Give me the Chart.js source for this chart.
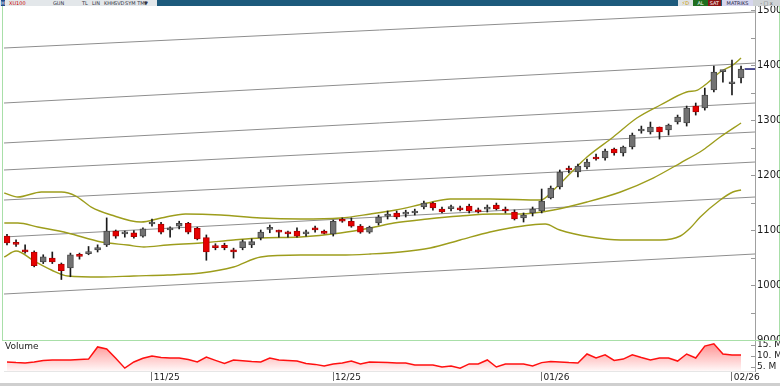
<!DOCTYPE html>
<html>
<head>
<meta charset="utf-8">
<script src="https://cdn.jsdelivr.net/npm/chart.js@4.4.1/dist/chart.umd.min.js"></script>
<style>
body{margin:0;width:780px;height:386px;overflow:hidden;background:#fff;position:relative;font-family:'DejaVu Sans',sans-serif}
#tb{position:absolute;left:0;top:0;width:780px;height:6px;background:#1d5a7c;overflow:hidden}
#tbl{position:absolute;left:0;top:0;width:157px;height:6px;background:#e3e7ea;font-size:5px;line-height:6px;color:#334}
#tbl span{position:absolute;top:0}
#tbr span{position:absolute;top:0;height:6px;font-size:5px;line-height:6px;text-align:center}
#frame{position:absolute;left:2px;top:6px;width:776px;height:334px;border:1px solid #a8dfa8;border-top:none}
#main{position:absolute;left:0;top:6px}
#vol{position:absolute;left:0;top:341px}
#vlab{position:absolute;left:5px;top:341px;font-size:9px;color:#222}
#foot{position:absolute;left:0;top:383px;width:780px;height:3px;background:#cfcfcf}
</style>
</head>
<body>
<div id="tb">
  <div id="tbl">
    <span style="left:1px;color:#fff;background:#234a8a;width:4px;text-align:center">H</span>
    <span style="left:9px;color:#c00">XU100</span>
    <span style="left:53px">GUN</span>
    <span style="left:82px">TL</span>
    <span style="left:92px">LIN</span>
    <span style="left:104px">KHH</span>
    <span style="left:114px">SVD</span>
    <span style="left:125px">SYM TMP</span>
    <span style="left:144px">&#9660;</span>
  </div>
  <div id="tbr">
    <span style="left:678px;width:15px;background:#dfe3e6;color:#c90">&#9889;D</span>
    <span style="left:693px;width:15px;background:#1f6e1f;color:#fff">AL</span>
    <span style="left:708px;width:13px;background:#8c1414;color:#fff">SAT</span>
    <span style="left:722px;width:31px;background:#d6d6ee;color:#224">MATRIKS</span>
    <span style="left:753px;width:27px;background:#cfd3d6;color:#555">- &#9633; x</span>
  </div>
</div>
<div id="frame"></div>
<canvas id="main" width="780" height="334"></canvas>
<canvas id="vol" width="780" height="42"></canvas>
<div id="vlab">Volume</div>
<div id="foot"></div>
<script>
// daily candles, oldest first
const open = [10890,10760,10640,10600,10420,10490,10380,10310,10550,10570,10640,10730,10980,10930,10950,10890,11110,11110,11000,11070,
  11120,11030,10860,10700,10720,10640,10680,10730,10860,11010,10990,10950,10980,10930,11040,10980,10930,11200,11160,11070,
  10960,11127,11250,11310,11290,11310,11418,11490,11382,11390,11400,11436,11365,11380,11455,11382,11327,11218,11310,11345,
  11582,11782,12127,12054,12145,12327,12309,12473,12400,12509,12800,12782,12873,12818,12963,12945,13254,13218,13545,13880,
  13660,13764];
const high = [10920,10820,10730,10620,10550,10600,10400,10580,10580,10700,10730,11220,11000,10980,10990,11040,11200,11140,11060,11160,
  11140,11050,10910,10750,10760,10670,10820,10840,11000,11090,11000,10980,11040,11000,11070,11000,11180,11220,11220,11100,
  11070,11270,11345,11345,11360,11380,11527,11509,11418,11455,11436,11470,11400,11455,11490,11418,11365,11310,11418,11745,
  11800,12091,12163,12200,12290,12380,12473,12490,12527,12763,12890,12963,12873,12927,13090,13254,13309,13580,13980,13900,
  14091,13980];
const low = [10730,10700,10580,10330,10390,10390,10100,10150,10470,10550,10600,10700,10850,10870,10850,10870,11070,10930,10870,11020,
  10930,10820,10450,10640,10640,10490,10640,10680,10820,10950,10870,10870,10870,10890,10960,10930,10890,11140,11050,10940,
  10940,11090,11200,11200,11236,11273,11382,11360,11309,11345,11345,11310,11310,11327,11365,11310,11182,11145,11255,11310,
  11564,11745,12036,11964,12110,12270,12270,12360,12345,12473,12760,12745,12654,12727,12927,12890,13090,13180,13510,13690,
  13454,13673];
const close = [10765,10740,10600,10350,10510,10420,10260,10550,10520,10600,10680,10980,10890,10950,10880,11020,11140,10960,11040,11120,
  10960,10840,10600,10680,10680,10600,10790,10790,10960,11030,10960,10930,10890,10960,11000,10940,11160,11160,11070,10960,
  11050,11236,11290,11236,11310,11345,11490,11400,11327,11405,11365,11345,11327,11400,11382,11345,11200,11273,11382,11527,
  11764,12054,12091,12163,12236,12291,12436,12400,12509,12727,12818,12873,12782,12909,13054,13218,13145,13454,13873,13891,
  13673,13927];
// volume in millions
const volume = [7.3,7.0,6.8,7.3,8.0,8.2,8.2,8.2,8.4,8.6,14.1,13.2,9.0,4.5,7.3,9.0,10.0,9.3,9.1,9.1,
  8.4,7.3,9.5,8.0,6.6,8.2,7.9,7.5,7.3,9.1,8.2,8.0,7.7,6.6,6.2,5.5,6.4,6.8,7.7,6.4,
  7.3,7.2,7.0,6.8,6.8,5.9,5.9,5.9,5.0,5.5,4.5,6.4,6.4,8.2,5.0,6.4,6.4,6.4,5.5,7.0,
  7.5,7.3,7.0,6.8,10.9,9.1,10.5,8.0,8.6,10.5,9.3,8.2,9.1,9.1,7.7,10.9,9.1,14.5,15.5,10.9,
  10.5,10.5];

// bollinger bands read at [candle index, price]
const upperBand = [[-0.3,11673],[1.2,11600],[3.8,11691],[6,11691],[7.6,11618],[9.3,11418],[11.5,11273],[14.8,11145],[17,11218],
  [19.7,11291],[23.6,11273],[28,11218],[32.4,11200],[36.8,11218],[40.1,11291],[42.9,11364],[46.4,11491],[48.9,11564],[53.3,11564],
  [58.9,11545],[60.3,11727],[62.2,12036],[64,12327],[66.9,12691],[69.5,13036],[72.1,13273],[75,13509],[76.2,13545],[77.3,13673],
  [78.7,13873],[80.1,14000],[81,14127]];
const middleBand = [[-0.3,11127],[1.2,11127],[3.4,11055],[6.7,10945],[10.4,10782],[13.3,10727],[15.1,10691],[17.7,10727],[21.4,10764],
  [25,10818],[28,10855],[32.4,10873],[36.8,10945],[40.1,11036],[42.7,11127],[46.4,11200],[50,11255],[53.7,11291],[56.7,11291],
  [60.3,11364],[64,11509],[67.7,11691],[71.3,11945],[74.3,12218],[76.8,12455],[78.7,12691],[81,12945]];
const lowerBand = [[-0.3,10509],[1,10618],[3,10436],[4.9,10273],[6.7,10164],[10.4,10145],[14,10164],[17.7,10182],[21.4,10218],
  [25,10327],[28,10509],[32.4,10545],[36.8,10545],[40.1,10564],[43.4,10600],[46.7,10673],[50,10818],[53.3,10964],[55.5,11036],
  [57.8,11091],[59.4,11109],[61,11000],[64.4,10873],[67.7,10818],[72.1,10818],[74.3,10891],[75.4,11036],[76.5,11236],[78.7,11545],
  [80.1,11691],[81,11727]];
// regression channel lines, price at left and right edge
const channelStart = [14309,13309,12582,12091,11545,10873,9836];
const channelEnd = [14963,14036,13309,12782,12236,11600,10564];

const priceTicks = [9000,9500,10000,10500,11000,11500,12000,12500,13000,13500,14000,14500,15000];
const volumeTicks = [5, 10, 15];
const monthTicks = [16, 36, 59, 80];
const monthLabels = ['11/25', '12/25', '01/26', '02/26'];

const xMin = -0.33, xMax = 82.54;
const font = 'DejaVu Sans';

const innerTicks = {
  id: 'innerTicks',
  afterDraw(chart) {
    const s = chart.scales.y, c = chart.ctx;
    c.save();
    c.strokeStyle = '#999';
    c.lineWidth = 1;
    s.ticks.forEach(t => {
      const p = Math.round(s.getPixelForValue(t.value)) + 0.5;
      c.beginPath(); c.moveTo(s.left - 4, p); c.lineTo(s.left, p); c.stroke();
    });
    c.restore();
  }
};

const up = close.map((c, i) => c >= open[i]);
const datasets = [];

datasets.push({
  type: 'bar', order: 0, grouped: false, barThickness: 6, minBarLength: 2,
  data: close.map((c, i) => ({x: i, y: [open[i], c]})),
  backgroundColor: up.map(u => u ? '#727272' : '#e60000'),
  borderColor: up.map(u => u ? '#4a4a4a' : '#b00000'),
  borderWidth: 1, borderSkipped: false
});
datasets.push({
  type: 'bar', order: 1, grouped: false, barThickness: 1,
  data: close.map((c, i) => ({x: i, y: [low[i], high[i]]})),
  backgroundColor: '#1a1a1a'
});
[upperBand, middleBand, lowerBand].forEach(b => datasets.push({
  type: 'line', order: 3, data: b.map(p => ({x: p[0], y: p[1]})),
  borderColor: '#9d9d1c', borderWidth: 1.4, pointRadius: 0, cubicInterpolationMode: 'monotone'
}));
channelStart.forEach((v, i) => datasets.push({
  type: 'line', order: 4, data: [{x: xMin, y: v}, {x: xMax, y: channelEnd[i]}],
  borderColor: '#8e8e8e', borderWidth: 1, pointRadius: 0
}));
datasets.push({
  type: 'line', order: 0,
  data: [{x: close.length - 0.6, y: close[close.length - 1]}, {x: xMax, y: close[close.length - 1]}],
  borderColor: '#141470', borderWidth: 1.5, pointRadius: 0
});

new Chart(document.getElementById('main'), {
  type: 'bar',
  data: {datasets},
  options: {
    responsive: false, animation: false, devicePixelRatio: 1,
    layout: {padding: {left: 4, right: 0, top: 0, bottom: 0}},
    plugins: {legend: {display: false}, tooltip: {enabled: false}},
    scales: {
      x: {type: 'linear', min: xMin, max: xMax, offset: false, display: false},
      y: {
        type: 'linear', position: 'right', min: 9000, max: 15073, beginAtZero: false,
        afterBuildTicks: s => { s.ticks = priceTicks.map(v => ({value: v})); },
        ticks: {autoSkip: false, padding: 2, color: '#1a1a1a', font: {family: font, size: 10},
          callback: v => v % 1000 === 0 ? String(v) : ''},
        grid: {drawOnChartArea: false, drawTicks: false},
        border: {color: '#a0a0a0'},
        afterFit: s => { s.width = 25; s.paddingTop = 0; s.paddingBottom = 0; }
      }
    }
  },
  plugins: [innerTicks]
});

new Chart(document.getElementById('vol'), {
  type: 'line',
  data: {
    datasets: [{
      data: volume.map((v, i) => ({x: i, y: v})),
      borderColor: '#ff1010', borderWidth: 1.5, pointRadius: 0, fill: 'start',
      backgroundColor: ctx => {
        const a = ctx.chart.chartArea;
        if (!a) return 'rgba(255,40,40,0.2)';
        const g = ctx.chart.ctx.createLinearGradient(0, a.top, 0, a.bottom);
        g.addColorStop(0, 'rgba(255,40,40,0.55)');
        g.addColorStop(1, 'rgba(255,40,40,0.03)');
        return g;
      }
    }]
  },
  options: {
    responsive: false, animation: false, devicePixelRatio: 1,
    layout: {padding: {left: 4, right: 0, top: 0, bottom: 0}},
    plugins: {legend: {display: false}, tooltip: {enabled: false}},
    scales: {
      x: {
        type: 'linear', min: xMin, max: xMax, offset: false,
        afterBuildTicks: s => { s.ticks = monthTicks.map(v => ({value: v})); },
        ticks: {autoSkip: false, maxRotation: 0, align: 'start', padding: -9, color: '#1a1a1a',
          font: {family: font, size: 9}, callback: v => '\u2009' + monthLabels[monthTicks.indexOf(v)]},
        grid: {drawOnChartArea: false, tickLength: 10, color: '#777'},
        border: {color: '#e6e6e6'},
        afterFit: s => { s.height = 12; s.paddingLeft = 0; s.paddingRight = 0; }
      },
      y: {
        position: 'right', min: 3.2, max: 16.8,
        afterBuildTicks: s => { s.ticks = volumeTicks.map(v => ({value: v})); },
        ticks: {padding: 2, color: '#1a1a1a', font: {family: font, size: 9}, callback: v => v + '. M'},
        grid: {drawOnChartArea: false, drawTicks: false},
        border: {color: '#a0a0a0'},
        afterFit: s => { s.width = 25; s.paddingTop = 0; s.paddingBottom = 0; }
      }
    }
  },
  plugins: [innerTicks]
});
</script>
</body>
</html>
